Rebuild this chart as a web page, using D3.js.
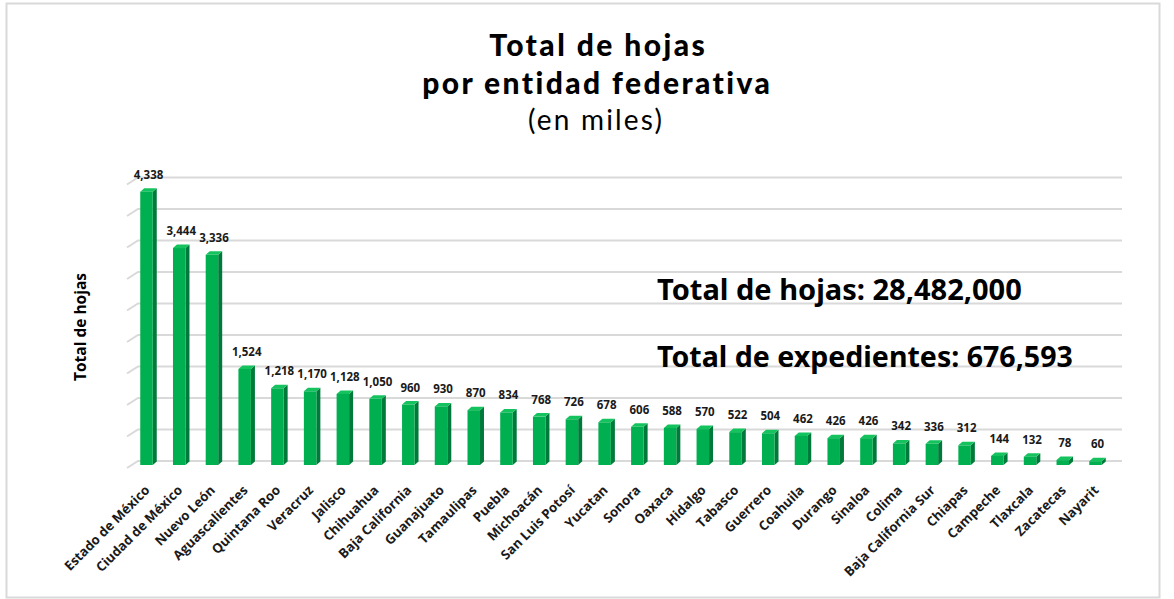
<!DOCTYPE html>
<html><head><meta charset="utf-8">
<script src="https://cdn.jsdelivr.net/npm/d3@7/dist/d3.min.js"></script>
<style>html,body{margin:0;padding:0;background:#fff}svg{display:block}</style>
</head><body>
<script>
const categories = ["Estado de México","Ciudad de México","Nuevo León","Aguascalientes","Quintana Roo","Veracruz","Jalisco","Chihuahua","Baja California","Guanajuato","Tamaulipas","Puebla","Michoacán","San Luis Potosí","Yucatan","Sonora","Oaxaca","Hidalgo","Tabasco","Guerrero","Coahuila","Durango","Sinaloa","Colima","Baja California Sur","Chiapas","Campeche","Tlaxcala","Zacatecas","Nayarit"];
const values = [4338,3444,3336,1524,1218,1170,1128,1050,960,930,870,834,768,726,678,606,588,570,522,504,462,426,426,342,336,312,144,132,78,60];
const gridTicks = [0,500,1000,1500,2000,2500,3000,3500,4000,4500];
const titleLines = ["Total de hojas","por entidad federativa"];
const subtitle = "(en miles)";
const yTitle = "Total de hojas";
const totalHojas = "Total de hojas: 28,482,000";
const totalExpLabel = "Total de expedientes";
const totalExpValue = ": 676,593";

const W = 1174, H = 599;
const svg = d3.select("body").append("svg").attr("width", W).attr("height", H);

svg.append("rect").attr("x",6.5).attr("y",3.5).attr("width",1153).attr("height",594)
  .attr("fill","#fff").attr("stroke","#d9d9d9").attr("stroke-width",2);

const x = d3.scalePoint().domain(categories).range([147.5, 1096.5]);
const y = d3.scaleLinear().domain([0,4500]).range([465, 465-283.5]);
const depthX = 4, depthY = 3.5;

function fit(sel, target) {
  const fs = +sel.attr("font-size");
  const w = sel.node().getComputedTextLength();
  if (w > 0) sel.attr("font-size", (fs * target / w).toFixed(2));
  return sel;
}
function spread(sel, target) {
  const w = sel.node().getComputedTextLength();
  const n = sel.text().length;
  const ls = Math.max(0, (target - w) / n);
  sel.attr("letter-spacing", ls.toFixed(2)).attr("x", +sel.attr("x") + ls/2);
  return sel;
}

// gridlines (back wall)
const g = svg.append("g");
gridTicks.forEach(t => {
  const yy = y(t) - 4;
  g.append("path").attr("d", `M127,${yy+7} L138,${yy} L1122,${yy}`)
    .attr("fill","none").attr("stroke","#d9d9d9").attr("stroke-width",2);
});

const bw = 12.5;
const lf = "'Open Sans', sans-serif";
const bars = svg.append("g");
categories.forEach((c,i) => {
  const cx = x(c), v = values[i];
  const x0 = cx - bw/2 - 1, x1 = cx + bw/2 - 1;
  const yt = y(v), yb = y(0);
  bars.append("path").attr("d", `M${x1},${yt} L${x1+depthX},${yt-depthY} L${x1+depthX},${yb-depthY} L${x1},${yb} Z`).attr("fill","#007a3a");
  bars.append("path").attr("d", `M${x0},${yt} L${x0+depthX},${yt-depthY} L${x1+depthX},${yt-depthY} L${x1},${yt} Z`).attr("fill","#14c35e");
  bars.append("rect").attr("x",x0).attr("y",yt).attr("width",x1-x0).attr("height",yb-yt).attr("fill","#00b050");
  bars.append("text").attr("x",cx+1).attr("y",yt-13).attr("text-anchor","middle")
    .attr("font-family",lf).attr("font-weight","bold").attr("font-size",11.5)
    .attr("fill","#1a1a1a").text(d3.format(",")(v));
  bars.append("text").attr("transform",`translate(${cx+3},${491}) rotate(-45)`)
    .attr("text-anchor","end")
    .attr("font-family",lf).attr("font-weight","bold").attr("font-size",13.2)
    .attr("fill","#1a1a1a").text(c);
});

// titles (Lato, letter-spaced to match the reference width)
const tf = "Lato, 'Noto Sans', sans-serif";
spread(svg.append("text").attr("x",597).attr("y",56).attr("text-anchor","middle")
  .attr("font-family",tf).attr("font-weight","900").attr("font-size",30).attr("fill","#000").text(titleLines[0]), 218);
spread(svg.append("text").attr("x",596).attr("y",93.5).attr("text-anchor","middle")
  .attr("font-family",tf).attr("font-weight","900").attr("font-size",30).attr("fill","#000").text(titleLines[1]), 351);
spread(svg.append("text").attr("x",595).attr("y",130).attr("text-anchor","middle")
  .attr("font-family",tf).attr("font-weight","normal").attr("font-size",28).attr("fill","#000").text(subtitle), 136);

svg.append("text").attr("transform","translate(86,327) rotate(-90)").attr("text-anchor","middle")
  .attr("font-family",lf).attr("font-weight","bold").attr("font-size",15.5)
  .attr("fill","#000").text(yTitle);

const nf = "'Noto Sans', Lato, sans-serif";
fit(svg.append("text").attr("x",657).attr("y",300)
  .attr("font-family",nf).attr("font-weight","bold").attr("font-size",28).attr("fill","#000").text(totalHojas), 365);
const t2 = svg.append("text").attr("x",657).attr("y",367)
  .attr("font-family",nf).attr("font-size",28).attr("fill","#000");
t2.append("tspan").attr("font-weight","bold").text(totalExpLabel);
t2.append("tspan").attr("font-weight","bold").text(totalExpValue);
fit(t2, 416);
</script>
</body></html>
